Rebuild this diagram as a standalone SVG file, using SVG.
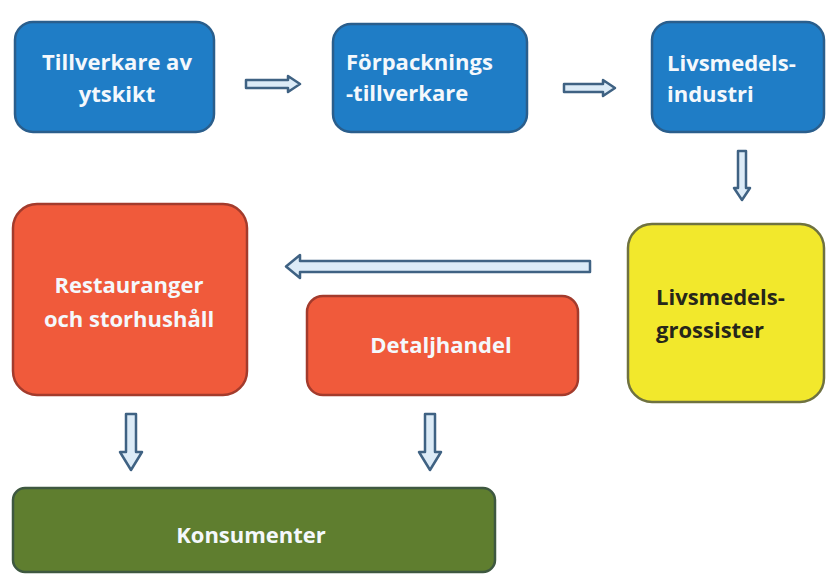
<svg xmlns="http://www.w3.org/2000/svg" width="827" height="574" viewBox="0 0 827 574">
<defs>
<style>
.blue{fill:#1F7DC6;stroke:#2A5E8C;stroke-width:2.5}
.red{fill:#F05A3B;stroke:#A33B2C;stroke-width:2.5}
.yellow{fill:#F2E82C;stroke:#6F7240;stroke-width:2.5}
.green{fill:#5F7E2F;stroke:#3E5840;stroke-width:2.5}
.arr{fill:#DCEBF7;stroke:#3F6283;stroke-width:2.5;stroke-linejoin:round}
.t{font-family:"Open Sans","Liberation Sans",sans-serif;font-weight:bold;font-size:22px;fill:#F4F8FC}
.d{fill:#26261A}
</style>
</defs>
<rect width="827" height="574" fill="#FFFFFF"/>
<g id="n1"><rect class="blue" x="15" y="22" width="199" height="110" rx="18"/>
<text class="t" x="117" y="70" text-anchor="middle">Tillverkare av</text>
<text class="t" x="117" y="102" text-anchor="middle">ytskikt</text></g>
<g id="n2"><rect class="blue" x="333" y="24" width="194" height="108" rx="18"/>
<text class="t" x="346" y="70">Förpacknings</text>
<text class="t" x="346" y="101">-tillverkare</text></g>
<g id="n3"><rect class="blue" x="652" y="22" width="172" height="110" rx="18"/>
<text class="t" x="667" y="71">Livsmedels-</text>
<text class="t" x="667" y="102">industri</text></g>
<g id="n4"><rect class="yellow" x="628" y="224" width="196" height="178" rx="24"/>
<text class="t d" x="656" y="305">Livsmedels-</text>
<text class="t d" x="656" y="338">grossister</text></g>
<g id="n5"><rect class="red" x="13" y="204" width="234" height="191" rx="24"/>
<text class="t" x="129" y="293" text-anchor="middle">Restauranger</text>
<text class="t" x="129" y="327" text-anchor="middle">och storhushåll</text></g>
<g id="n6"><rect class="red" x="307" y="296" width="271" height="99" rx="16"/>
<text class="t" x="441" y="353" text-anchor="middle">Detaljhandel</text></g>
<g id="n7"><rect class="green" x="13" y="488" width="482" height="84" rx="12"/>
<text class="t" x="251" y="543" text-anchor="middle" fill="#F0F4E0">Konsumenter</text></g>
<g id="connectors">
<path class="arr" d="M246 80 H288 V76 L300 84 L288 92 V88 H246 Z"/>
<path class="arr" d="M564 84 H603 V80 L615 88 L603 96 V92 H564 Z"/>
<path class="arr" d="M738 151 H746 V188 H750 L742 200 L734 188 H738 Z"/>
<path class="arr" d="M590 261 V272 H300 V278 L286 266.5 L300 255 V261 Z"/>
<path class="arr" d="M126 414 H136 V452 H142 L131 470 L120 452 H126 Z"/>
<path class="arr" d="M425 414 H435 V452 H441 L430 470 L419 452 H425 Z"/>
</g>
</svg>
